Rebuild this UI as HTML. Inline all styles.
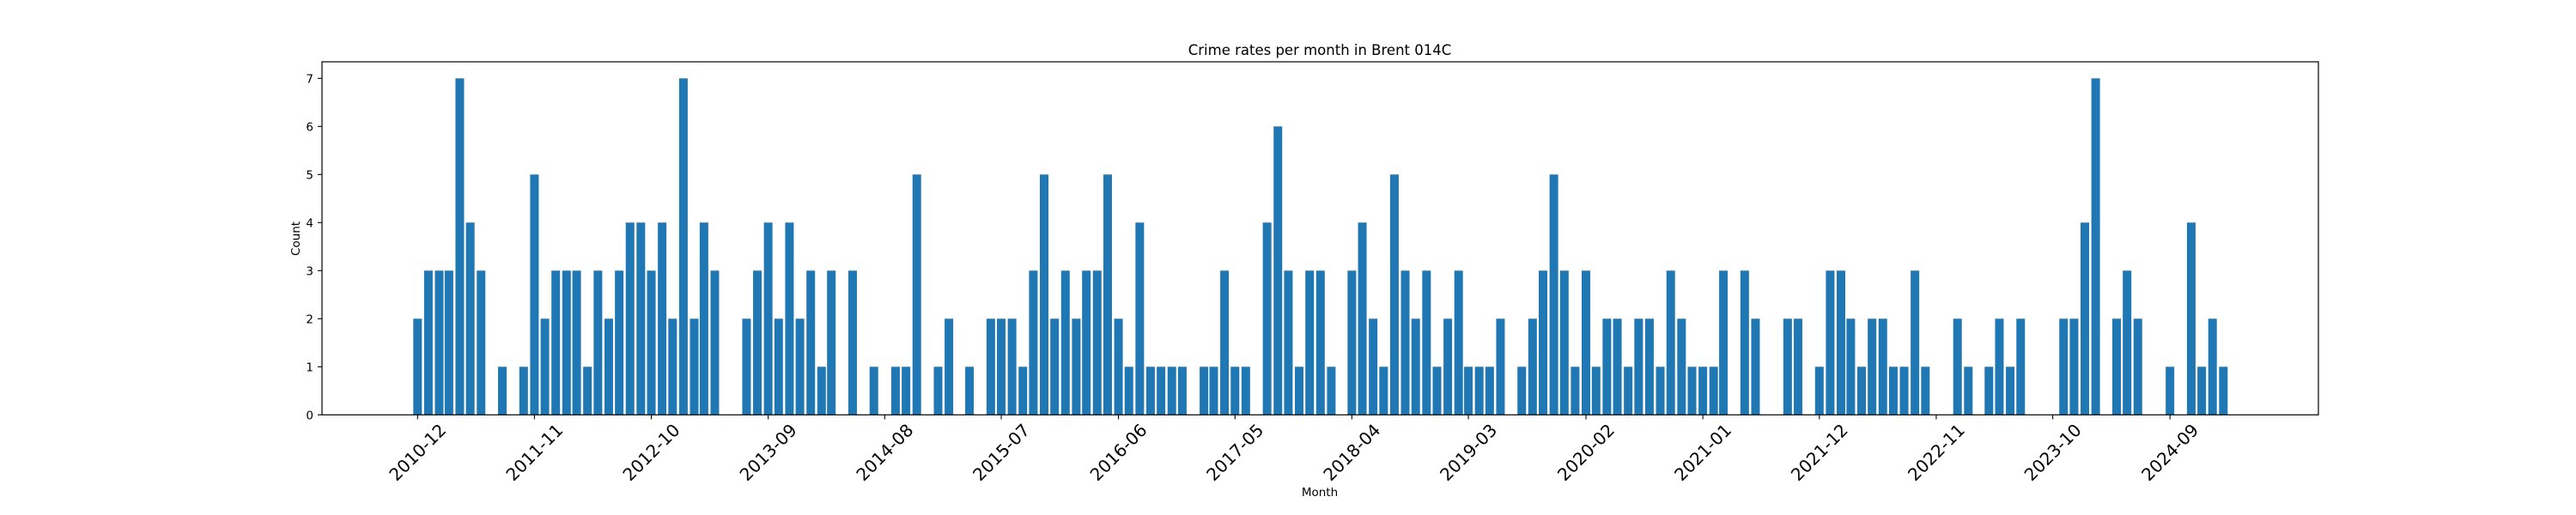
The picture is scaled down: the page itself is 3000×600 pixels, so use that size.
<!DOCTYPE html>
<html>
<head>
<meta charset="utf-8">
<style>
  html,body{margin:0;padding:0;background:#fff;}
  svg{display:block;font-family:"DejaVu Sans","Liberation Sans",sans-serif;}
</style>
</head>
<body>
<svg id="chart" width="3000" height="600" viewBox="0 0 3000 600" xmlns="http://www.w3.org/2000/svg">
  <rect x="0" y="0" width="3000" height="600" fill="#fff"/>
  <text x="1537" y="64" font-size="16.5" text-anchor="middle" fill="#000">Crime rates per month in Brent 014C</text>
  <text x="1537" y="578" font-size="13.5" text-anchor="middle" fill="#000">Month</text>
  <text x="0" y="0" font-size="13.5" text-anchor="middle" fill="#000" transform="translate(349,278) rotate(-90)">Count</text>
  <g id="bars"></g>
  <g id="yticks"></g>
  <g id="xticks"></g>
  <rect x="375" y="72" width="2325" height="411.3" fill="none" stroke="#000" stroke-width="1.2"/>
</svg>
<script>
const startMonth = "2010-12";
const counts = [
  2,
  3,3,3,7,4,3,0,1,0,1,5,2,
  3,3,3,1,3,2,3,4,4,3,4,2,
  7,2,4,3,0,0,2,3,4,2,4,2,
  3,1,3,0,3,0,1,0,1,1,5,0,
  1,2,0,1,0,2,2,2,1,3,5,2,
  3,2,3,3,5,2,1,4,1,1,1,1,
  0,1,1,3,1,1,0,4,6,3,1,3,
  3,1,0,3,4,2,1,5,3,2,3,1,
  2,3,1,1,1,2,0,1,2,3,5,3,
  1,3,1,2,2,1,2,2,1,3,2,1,
  1,1,3,0,3,2,0,0,2,2,0,1,
  3,3,2,1,2,2,1,1,3,1,0,0,
  2,1,0,1,2,1,2,0,0,0,2,2,
  4,7,0,2,3,2,0,0,1,0,4,1,
  2,1
];
const xTickLabels = ["2010-12","2011-11","2012-10","2013-09","2014-08","2015-07","2016-06","2017-05","2018-04","2019-03","2020-02","2021-01","2021-12","2022-11","2023-10","2024-09"];
const yTickValues = [0,1,2,3,4,5,6,7];

const NS = "http://www.w3.org/2000/svg";
const X0 = 486.3, PXDAY = 0.4063, Y0 = 483.3, PXUNIT = 56.0, BARW = 10;
const REF = Date.UTC(2010, 11, 1);
function monthDate(s){ const p = s.split("-"); return Date.UTC(+p[0], +p[1]-1, 1); }
function xScale(t){ return X0 + (t - REF) / 86400000 * PXDAY; }
function yScale(v){ return Y0 - v * PXUNIT; }
function monthAt(i){
  const p = startMonth.split("-"); const y = +p[0], m = +p[1]-1 + i;
  return Date.UTC(y + Math.floor(m/12), m % 12, 1);
}

const bars = document.getElementById("bars");
counts.forEach((v, i) => {
  const cx = xScale(monthAt(i));
  const r = document.createElementNS(NS, "rect");
  r.setAttribute("x", cx - BARW/2);
  r.setAttribute("y", yScale(v));
  r.setAttribute("width", BARW);
  r.setAttribute("height", Y0 - yScale(v));
  r.setAttribute("fill", "#1f77b4");
  
  
  bars.appendChild(r);
});

const yg = document.getElementById("yticks");
yTickValues.forEach(v => {
  const y = yScale(v);
  const l = document.createElementNS(NS, "line");
  l.setAttribute("x1", 370); l.setAttribute("x2", 375);
  l.setAttribute("y1", y); l.setAttribute("y2", y);
  l.setAttribute("stroke", "#000"); l.setAttribute("stroke-width", "1.1");
  
  
  yg.appendChild(l);
  const t = document.createElementNS(NS, "text");
  t.setAttribute("x", 365); t.setAttribute("y", y + 5);
  t.setAttribute("font-size", "13.5"); t.setAttribute("text-anchor", "end");
  t.textContent = v;
  
  
  yg.appendChild(t);
});

const xg = document.getElementById("xticks");
xTickLabels.forEach(s => {
  const x = xScale(monthDate(s));
  const l = document.createElementNS(NS, "line");
  l.setAttribute("x1", x); l.setAttribute("x2", x);
  l.setAttribute("y1", 483.3); l.setAttribute("y2", 488.5);
  l.setAttribute("stroke", "#000"); l.setAttribute("stroke-width", "1.1");
  
  
  xg.appendChild(l);
  const t = document.createElementNS(NS, "text");
  t.setAttribute("x", 0); t.setAttribute("y", 0);
  t.setAttribute("font-size", "20"); t.setAttribute("text-anchor", "middle");
  t.setAttribute("dominant-baseline", "central");
  t.setAttribute("transform", "translate(" + x + ",527) rotate(-45)");
  t.textContent = s;
  
  
  xg.appendChild(t);
});
</script>
</body>
</html>
